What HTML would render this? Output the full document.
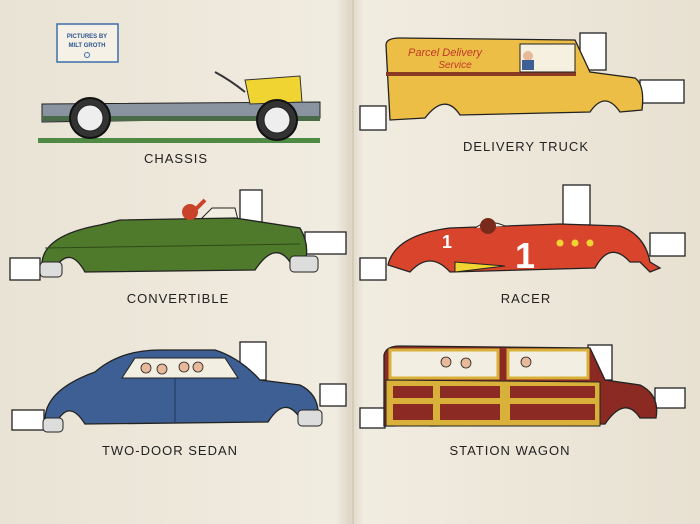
<!DOCTYPE html>
<html><head><meta charset="utf-8"><style>
html,body{margin:0;padding:0;background:#efe9dc;}
svg{display:block}
text{font-family:"Liberation Sans",sans-serif;}
</style></head><body>
<svg width="700" height="524" viewBox="0 0 700 524" xmlns="http://www.w3.org/2000/svg">
<defs>
<linearGradient id="bg" x1="0" x2="1">
<stop offset="0" stop-color="#e9e3d5"/><stop offset="0.48" stop-color="#f1ece0"/><stop offset="0.5" stop-color="#ddd6c6"/><stop offset="0.52" stop-color="#f1ece0"/><stop offset="1" stop-color="#e8e1d2"/>
</linearGradient>
</defs>
<rect width="700" height="524" fill="url(#bg)"/>
<line x1="353" y1="0" x2="353" y2="524" stroke="#cfc6b3" stroke-width="1.5"/>

<rect x="57" y="24" width="61" height="38" fill="#f5f1e6" stroke="#3c6fa8" stroke-width="1.5"/>
<text x="87" y="38" font-size="6" fill="#2c5590" text-anchor="middle" font-weight="bold">PICTURES BY</text>
<text x="87" y="47" font-size="6" fill="#2c5590" text-anchor="middle" font-weight="bold">MILT GROTH</text>
<circle cx="87" cy="55" r="2.5" fill="none" stroke="#3c6fa8"/>

<g stroke="#222" stroke-width="1.3" fill="#fff">
<rect x="580" y="33" width="26" height="37"/><rect x="640" y="80" width="44" height="23"/><rect x="360" y="106" width="26" height="24"/>
<rect x="240" y="190" width="22" height="32"/><rect x="305" y="232" width="41" height="22"/><rect x="10" y="258" width="30" height="22"/>
<rect x="563" y="185" width="27" height="40"/><rect x="650" y="233" width="35" height="23"/><rect x="360" y="258" width="26" height="22"/>
<rect x="240" y="342" width="26" height="38"/><rect x="320" y="384" width="26" height="22"/><rect x="12" y="410" width="32" height="20"/>
<rect x="588" y="345" width="24" height="35"/><rect x="655" y="388" width="30" height="20"/><rect x="360" y="408" width="25" height="20"/>
</g>

<!-- chassis -->
<rect x="38" y="138" width="282" height="5" fill="#4f8a44"/>
<path d="M42 104 L320 102 L320 118 L42 122 Z" fill="#8a94a0" stroke="#222"/>
<rect x="42" y="116" width="278" height="5" fill="#4a6b48"/>
<path d="M245 80 L300 76 L302 102 L250 104 Z" fill="#f0d431" stroke="#333"/>
<path d="M215 72 Q230 80 245 92" fill="none" stroke="#333" stroke-width="2"/>
<circle cx="90" cy="118" r="20" fill="#333" stroke="#111" stroke-width="2"/><circle cx="90" cy="118" r="13" fill="#eee" stroke="#222"/>
<circle cx="277" cy="120" r="20" fill="#333" stroke="#111" stroke-width="2"/><circle cx="277" cy="120" r="13" fill="#eee" stroke="#222"/>
<text x="176" y="163" font-size="13" letter-spacing="1" text-anchor="middle" fill="#222">CHASSIS</text>

<!-- delivery truck -->
<path d="M386 45 Q386 38 400 38 L575 40 L590 72 L635 78 Q645 85 642 110 L620 112 Q605 90 590 112 L460 115 Q445 92 425 118 L390 120 Z" fill="#edbe45" stroke="#222" stroke-width="1.3"/>
<rect x="386" y="72" width="190" height="4" fill="#8a3a22"/>
<rect x="520" y="44" width="55" height="28" fill="#f5f0e0" stroke="#222"/>
<circle cx="528" cy="56" r="5" fill="#e8b89a"/><rect x="522" y="60" width="12" height="10" fill="#3d5f94"/>
<text x="445" y="56" font-size="11" font-style="italic" fill="#c0392b" text-anchor="middle" font-family="Liberation Serif,serif">Parcel Delivery</text>
<text x="455" y="68" font-size="10" font-style="italic" fill="#c0392b" text-anchor="middle" font-family="Liberation Serif,serif">Service</text>
<text x="526" y="151" font-size="13" letter-spacing="1" text-anchor="middle" fill="#222">DELIVERY TRUCK</text>

<!-- convertible -->
<path d="M200 220 L212 208 L235 208 L238 220" fill="#f2eee2" stroke="#222"/>
<path d="M42 262 Q45 235 100 225 L120 220 L235 218 L300 228 Q310 245 305 262 L290 262 Q275 240 255 270 L85 272 Q70 245 55 268 Z" fill="#4f7a2b" stroke="#222" stroke-width="1.3"/>
<path d="M45 248 L300 244" stroke="#2e4a18" fill="none"/>
<rect x="40" y="262" width="22" height="15" rx="4" fill="#ddd" stroke="#222"/><rect x="290" y="256" width="28" height="16" rx="4" fill="#ddd" stroke="#222"/>
<circle cx="190" cy="212" r="8" fill="#c9432a"/>
<path d="M195 210 L205 200" stroke="#c9432a" stroke-width="4"/>
<text x="178" y="303" font-size="13" letter-spacing="1" text-anchor="middle" fill="#222">CONVERTIBLE</text>

<!-- racer -->
<path d="M388 265 Q395 235 450 228 L560 224 L620 226 Q645 235 650 262 L660 268 L650 272 L640 262 L630 262 Q610 240 595 268 L450 272 Q430 250 410 272 Z" fill="#d9452c" stroke="#222" stroke-width="1.3"/>
<path d="M455 262 L505 266 L455 272 Z" fill="#f0d431" stroke="#222"/>
<text x="442" y="248" font-size="18" font-weight="bold" fill="#fff">1</text>
<text x="515" y="268" font-size="36" font-weight="bold" fill="#fff">1</text>
<g fill="#f0d431"><circle cx="560" cy="243" r="3.5"/><circle cx="575" cy="243" r="3.5"/><circle cx="590" cy="243" r="3.5"/></g>
<path d="M475 228 Q488 218 505 226" fill="#f2eee2" stroke="#222"/>
<circle cx="488" cy="226" r="8" fill="#7a2a1a"/>
<text x="526" y="303" font-size="13" letter-spacing="1" text-anchor="middle" fill="#222">RACER</text>

<!-- sedan -->
<path d="M45 420 Q45 390 95 372 Q120 350 160 350 L215 350 Q240 358 260 380 L300 385 Q320 395 318 418 L300 418 Q285 395 268 422 L85 424 Q70 400 58 420 Z" fill="#3d5f94" stroke="#222" stroke-width="1.3"/>
<path d="M122 378 L135 358 L225 358 L238 378 Z" fill="#f2eee2" stroke="#222"/>
<g fill="#e8b89a" stroke="#222" stroke-width="0.8"><circle cx="146" cy="368" r="5"/><circle cx="162" cy="369" r="5"/><circle cx="184" cy="367" r="5"/><circle cx="198" cy="367" r="5"/></g>
<path d="M175 378 L175 422" stroke="#1e3558"/>
<rect x="43" y="418" width="20" height="14" rx="4" fill="#ddd" stroke="#222"/><rect x="298" y="410" width="24" height="16" rx="4" fill="#ddd" stroke="#222"/>
<text x="170" y="455" font-size="13" letter-spacing="1" text-anchor="middle" fill="#222">TWO-DOOR SEDAN</text>

<!-- wagon -->
<path d="M384 355 Q386 346 400 346 L590 348 L605 380 L640 385 Q660 395 656 418 L640 418 Q625 395 605 424 L430 426 Q415 405 395 426 L384 426 Z" fill="#8a2a22" stroke="#222" stroke-width="1.3"/>
<path d="M386 380 L600 382 L600 426 L386 426 Z" fill="#d9b13a" stroke="#222"/>
<rect x="393" y="386" width="40" height="12" fill="#8a2a22"/><rect x="440" y="386" width="60" height="12" fill="#8a2a22"/><rect x="510" y="386" width="85" height="12" fill="#8a2a22"/>
<rect x="393" y="404" width="40" height="16" fill="#8a2a22"/><rect x="440" y="404" width="60" height="16" fill="#8a2a22"/><rect x="510" y="404" width="85" height="16" fill="#8a2a22"/>
<rect x="390" y="350" width="108" height="28" fill="#f2eee2" stroke="#d9b13a" stroke-width="3"/>
<rect x="508" y="350" width="80" height="28" fill="#f2eee2" stroke="#d9b13a" stroke-width="3"/>
<g fill="#e8b89a" stroke="#222" stroke-width="0.8"><circle cx="446" cy="362" r="5"/><circle cx="466" cy="363" r="5"/><circle cx="526" cy="362" r="5"/></g>
<text x="510" y="455" font-size="13" letter-spacing="1" text-anchor="middle" fill="#222">STATION WAGON</text>
</svg>
</body></html>
